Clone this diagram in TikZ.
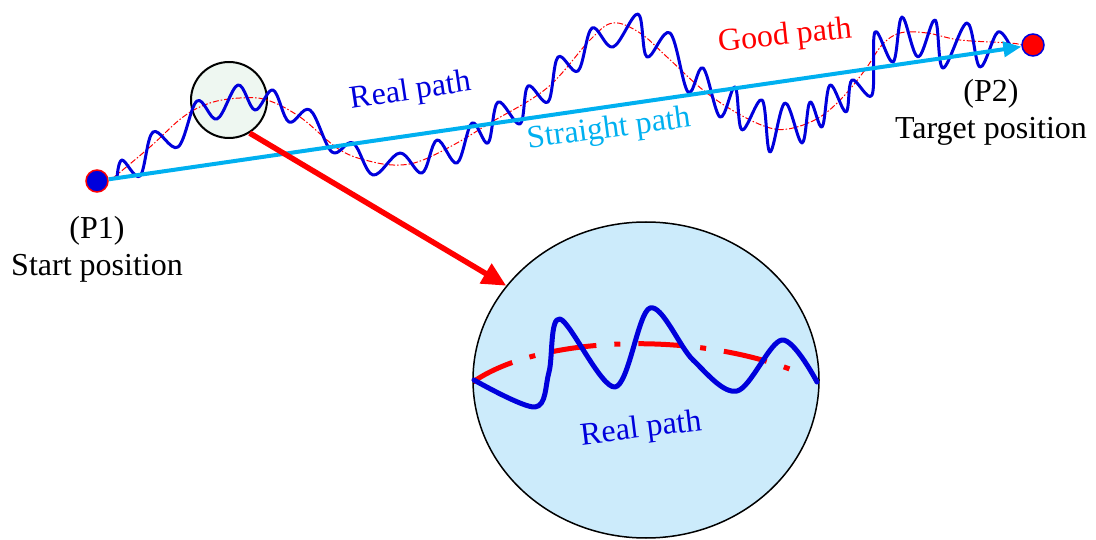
\documentclass[tikz,border=0pt]{standalone}
\usepackage{fontspec}
\setmainfont{Liberation Serif}
\usetikzlibrary{arrows.meta,shapes.geometric}
\definecolor{wave}{HTML}{0000DC}
\definecolor{sky}{HTML}{00B0F0}
\definecolor{good}{HTML}{FF0000}
\definecolor{lens}{HTML}{EEF7F1}
\definecolor{zoomfill}{HTML}{CCEBFB}
\begin{document}
\begin{tikzpicture}[x=1pt,y=-1pt,
  lbl/.style={font=\fontsize{32}{37}\selectfont, inner sep=0pt, align=center},
  wavy/.style={draw=wave, line width=3pt, line cap=round, line join=round},
  goodline/.style={draw=good, line width=1pt, dash pattern=on 6pt off 2pt on 1.5pt off 2pt},
  straightarrow/.style={draw=sky, line width=4pt, -{Triangle[length=18pt,width=15pt]}},
  zoomarrow/.style={draw=good, line width=5.5pt, -{Triangle[length=24pt,width=22pt]}},
  dot/.style={circle, line width=1.5pt, minimum size=22pt, inner sep=0pt}]
\useasboundingbox (0,0) rectangle (1096,540);

% magnifier and zoom circle
\node[circle, draw=black, fill=lens, line width=2pt, minimum size=76pt, inner sep=0pt] (small) at (229,100) {};
\node[ellipse, draw=black, fill=zoomfill, line width=1.5pt, minimum width=346pt, minimum height=316pt, inner sep=0pt] (big) at (646,380) {};

% good path (thin)
\draw[goodline] plot[smooth, tension=0.6] coordinates {
 (113,178) (150,147) (183,117) (210,103) (240,98) (267,100) (300,117) (340,150)
 (373,162) (400,165) (423,160) (457,143) (490,123) (547,88) (590,40) (613,23)
 (640,33) (667,57) (703,90) (737,113) (770,128) (793,128) (820,117) (843,97)
 (865,70) (882,45) (900,33) (927,33) (960,40) (1010,43) (1022,45)};

% real path (wavy)
\draw[wavy] plot[smooth, tension=0.6] coordinates {
 (117,178) (122,160) (140,176) (153,132) (178,147) (197,101) (217,119) (238,85)
 (255,110) (273,90) (289,122) (310,110) (332,152) (353,143) (373,175) (400,153)
 (422,173) (437,140) (457,163) (472,123) (488,143) (498,102) (520,124) (528,86)
 (548,102) (558,57) (578,71) (592,28) (613,47) (638,14) (647,57) (670,33)
 (688,92) (703,68) (720,117) (735,87) (742,130) (762,100) (770,152) (785,103)
 (802,143) (810,102) (822,127) (830,85) (846,112) (852,80) (872,95) (875,32)
 (893,62) (902,17) (918,57) (935,20) (943,68) (967,23) (980,67) (998,32) (1012,50)};

% end points
\node[dot, fill=wave, draw=red] (p1) at (97,181) {};
\node[dot, fill=red, draw=wave] (p2) at (1033,45) {};

% straight path
\draw[straightarrow] (p1) -- (p2);

% zoom arrow
\draw[zoomarrow] (small.-58) -- (big.146);

% zoomed view content
\draw[draw=good, line width=5pt, dash pattern=on 44pt off 18pt on 6pt off 18pt]
  (473,382) .. controls (540,335) and (700,330) .. (802,374);
\draw[wavy, line width=5pt] plot[smooth, tension=0.55] coordinates {
 (474,380) (535,407) (549,372) (560,319) (615,387) (650,308) (693,360) (737,391) (782,340) (817,382)};

% labels
\node[lbl, text=wave, rotate=8.5] (lreal) at (411,92) {Real path};
\node[lbl, text=sky, rotate=7.5] (lstraight) at (609,130) {Straight path};
\node[lbl, text=good, rotate=6] (lgood) at (785,37) {Good path};
\node[lbl, text=wave, rotate=7] (lreal2) at (641,430) {Real path};
\node[lbl] (lp1) at (97,249) {(P1)\\Start position};
\node[lbl] (lp2) at (991,112) {(P2)\\Target position};
\end{tikzpicture}
\end{document}
